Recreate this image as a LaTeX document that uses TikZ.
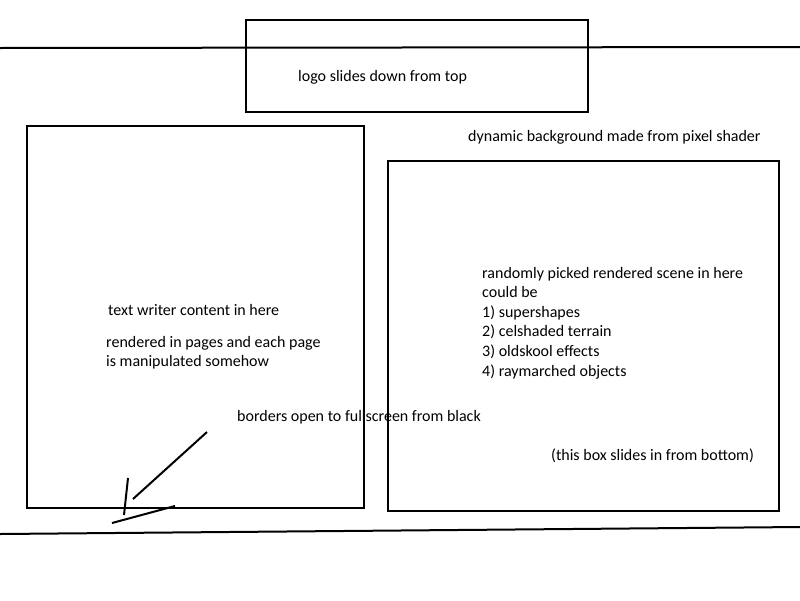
\documentclass[tikz,border=0pt]{standalone}
\usepackage{fontspec}
\setmainfont{Carlito}
\begin{document}
\begin{tikzpicture}[x=1pt,y=-1pt,
  box/.style={draw=black,line width=2pt},
  stroke/.style={draw=black,line width=2pt},
  lbl/.style={anchor=base west,inner sep=0pt,font=\fontsize{16}{19.6}\selectfont}]
\useasboundingbox[fill=white] (0,0) rectangle (800,600);
% horizontal lines
\coordinate (tl) at (0,48);
\coordinate (tr) at (800,47);
\coordinate (bl) at (0,534);
\coordinate (br) at (800,527);
\draw[stroke] (tl) -- (tr);
\draw[stroke] (bl) -- (br);
% boxes
\draw[box] (246,20) rectangle (588,112);
\draw[box] (27,126) rectangle (364,508);
\draw[box] (388,161) rectangle (779,511);
% texts
\node[lbl] (t1) at (298,81) {logo slides down from top};
\node[lbl] (t2) at (468,141) {dynamic background made from pixel shader};
\node[lbl] (t3) at (108,315) {text writer content in here};
\node[lbl] (t4) at (106,347) {rendered in pages and each page};
\node[lbl] (t5) at (106,366) {is manipulated somehow};
\node[lbl] (t6) at (237,421) {borders open to fullscreen from black};
\node[lbl] (r1) at (482,278) {randomly picked rendered scene in here};
\node[lbl] (r2) at (482,297.6) {could be};
\node[lbl] (r3) at (482,317.2) {1) supershapes};
\node[lbl] (r4) at (482,336.8) {2) celshaded terrain};
\node[lbl] (r5) at (482,356.4) {3) oldskool effects};
\node[lbl] (r6) at (482,376) {4) raymarched objects};
\node[lbl] (t7) at (551,460) {(this box slides in from bottom)};
% hand-drawn arrow
\coordinate (a1) at (207,432);
\coordinate (a2) at (133,499);
\coordinate (a3) at (128,478);
\coordinate (a4) at (124,515);
\coordinate (a5) at (112,523);
\coordinate (a6) at (175,506);
\draw[stroke] (a1) -- (a2);
\draw[stroke] (a3) -- (a4);
\draw[stroke] (a5) -- (a6);
\end{tikzpicture}
\end{document}
